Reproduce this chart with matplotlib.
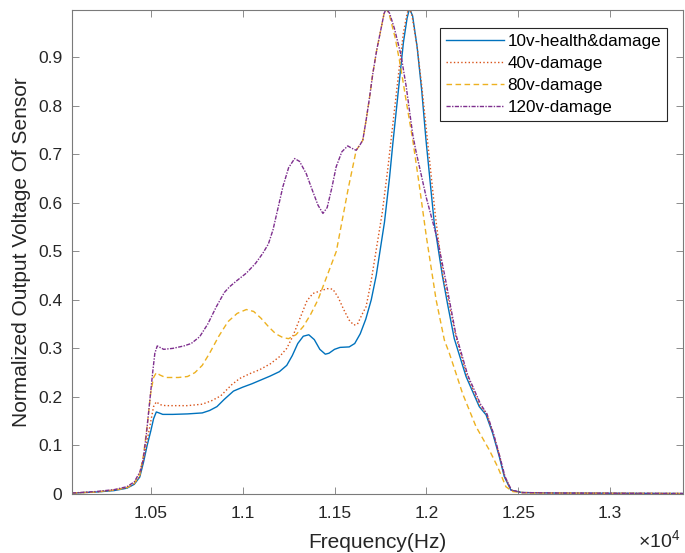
import numpy as np
import matplotlib
matplotlib.use('Agg')
import matplotlib.pyplot as plt
from matplotlib.ticker import MultipleLocator, FuncFormatter

plt.rcParams['font.family'] = ['Liberation Sans', 'DejaVu Sans']
plt.rcParams['mathtext.fontset'] = 'custom'
plt.rcParams['mathtext.rm'] = 'Liberation Sans'

#--------------------------------------------------#
# values (Hz, normalized voltage)
f_10v = [10071, 10200, 10300, 10370, 10410, 10440, 10460, 10480, 10500, 10515, 10530, 10545, 10565,
         10620, 10700, 10780, 10820, 10860, 10900, 10950, 11000, 11050, 11100, 11150, 11200, 11240,
         11270, 11300, 11330, 11360, 11390, 11420, 11450, 11470, 11500, 11530, 11580, 11610, 11640,
         11670, 11700, 11727, 11772, 11799, 11817, 11850, 11875, 11895, 11908, 11925, 11950, 11975,
         11998, 12043, 12087, 12116, 12152, 12216, 12288, 12325, 12361, 12397, 12424, 12460, 12520,
         12700, 13397]
v_10v = [0.002, 0.004, 0.007, 0.012, 0.020, 0.035, 0.065, 0.100, 0.130, 0.155, 0.169, 0.167, 0.164,
         0.164, 0.165, 0.167, 0.172, 0.180, 0.195, 0.212, 0.220, 0.227, 0.235, 0.243, 0.252, 0.265,
         0.285, 0.310, 0.325, 0.328, 0.318, 0.298, 0.288, 0.290, 0.298, 0.302, 0.303, 0.310, 0.330,
         0.360, 0.400, 0.450, 0.560, 0.650, 0.720, 0.840, 0.930, 0.980, 1.000, 0.985, 0.920, 0.830,
         0.729, 0.558, 0.450, 0.390, 0.320, 0.242, 0.180, 0.163, 0.125, 0.077, 0.036, 0.008, 0.003,
         0.002, 0.001]

f_40v = [10071, 10200, 10300, 10370, 10410, 10440, 10460, 10480, 10500, 10515, 10530, 10550, 10580,
         10700, 10780, 10830, 10880, 10940, 10984, 11040, 11092, 11150, 11201, 11240, 11273, 11310,
         11350, 11382, 11420, 11460, 11491, 11520, 11550, 11580, 11605, 11625, 11650, 11672, 11700,
         11730, 11760, 11790, 11820, 11850, 11875, 11895, 11905, 11920, 11950, 11975, 12000, 12050,
         12090, 12125, 12160, 12220, 12290, 12328, 12363, 12399, 12426, 12462, 12520, 12700, 13397]
v_40v = [0.002, 0.004, 0.008, 0.013, 0.021, 0.037, 0.070, 0.110, 0.150, 0.180, 0.190, 0.184, 0.182,
         0.182, 0.185, 0.192, 0.202, 0.225, 0.238, 0.248, 0.256, 0.268, 0.283, 0.300, 0.325, 0.360,
         0.398, 0.413, 0.418, 0.423, 0.422, 0.405, 0.380, 0.358, 0.348, 0.350, 0.370, 0.386, 0.440,
         0.510, 0.580, 0.670, 0.770, 0.870, 0.950, 0.990, 1.000, 0.990, 0.920, 0.840, 0.750, 0.570,
         0.450, 0.390, 0.325, 0.245, 0.183, 0.164, 0.125, 0.077, 0.036, 0.008, 0.003, 0.002, 0.001]

f_80v = [10071, 10200, 10300, 10370, 10410, 10440, 10460, 10480, 10500, 10515, 10530, 10550, 10580,
         10650, 10700, 10740, 10780, 10820, 10870, 10920, 10970, 11020, 11060, 11100, 11140, 11180,
         11220, 11250, 11290, 11330, 11370, 11410, 11440, 11480, 11510, 11545, 11575, 11600, 11618,
         11640, 11654, 11672, 11690, 11708, 11730, 11754, 11770, 11782, 11800, 11830, 11860, 11890,
         11926, 11960, 12000, 12053, 12098, 12125, 12160, 12197, 12270, 12342, 12388, 12433, 12470,
         12550, 13397]
v_80v = [0.002, 0.004, 0.008, 0.013, 0.022, 0.040, 0.080, 0.140, 0.210, 0.240, 0.250, 0.245, 0.240,
         0.240, 0.242, 0.250, 0.265, 0.290, 0.325, 0.355, 0.372, 0.380, 0.376, 0.362, 0.345, 0.330,
         0.322, 0.320, 0.328, 0.345, 0.370, 0.400, 0.430, 0.470, 0.500, 0.570, 0.630, 0.675, 0.708,
         0.720, 0.729, 0.770, 0.815, 0.865, 0.915, 0.960, 0.990, 1.000, 0.985, 0.940, 0.880, 0.810,
         0.729, 0.640, 0.530, 0.400, 0.317, 0.290, 0.250, 0.207, 0.139, 0.091, 0.056, 0.015, 0.005,
         0.002, 0.001]

f_120v = [10071, 10200, 10300, 10370, 10410, 10440, 10458, 10475, 10495, 10510, 10522, 10535, 10550,
          10570, 10620, 10680, 10720, 10766, 10810, 10857, 10900, 10929, 10970, 11020, 11070, 11110,
          11140, 11165, 11190, 11219, 11250, 11283, 11310, 11346, 11380, 11410, 11437, 11460, 11485,
          11509, 11540, 11572, 11595, 11618, 11640, 11654, 11672, 11690, 11708, 11730, 11754, 11770,
          11782, 11800, 11826, 11862, 11890, 11926, 11944, 12000, 12061, 12100, 12125, 12160, 12225,
          12295, 12330, 12365, 12400, 12428, 12463, 12520, 12700, 13397]
v_120v = [0.002, 0.005, 0.009, 0.015, 0.025, 0.045, 0.070, 0.120, 0.194, 0.250, 0.290, 0.305, 0.302,
          0.298, 0.300, 0.305, 0.310, 0.324, 0.350, 0.386, 0.415, 0.427, 0.440, 0.455, 0.475, 0.496,
          0.515, 0.544, 0.585, 0.633, 0.672, 0.691, 0.685, 0.660, 0.625, 0.595, 0.578, 0.590, 0.630,
          0.674, 0.705, 0.717, 0.712, 0.708, 0.720, 0.729, 0.770, 0.815, 0.865, 0.915, 0.960, 0.990,
          1.000, 0.990, 0.959, 0.904, 0.840, 0.740, 0.705, 0.610, 0.523, 0.450, 0.400, 0.330, 0.245,
          0.185, 0.165, 0.125, 0.077, 0.036, 0.008, 0.003, 0.002, 0.001]

labels = ['10v-health&damage', '40v-damage', '80v-damage', '120v-damage']
#--------------------------------------------------#

c_blue = '#0072BD'
c_orange = '#D95319'
c_yellow = '#EDB120'
c_purple = '#7E2F8E'
axcol = '#7a7a7a'
txtcol = '#262626'

fig = plt.figure(figsize=(6.85, 5.53), dpi=100, facecolor='white')
ax = fig.add_axes([72/685, 59/553, 611/685, 484/553])

ax.plot(f_10v, v_10v, color=c_blue, lw=1.0, ls='-', label=labels[0])
ax.plot(f_40v, v_40v, color=c_orange, lw=1.0, ls=':', label=labels[1])
ax.plot(f_80v, v_80v, color=c_yellow, lw=1.0, ls=(0, (4, 2.5)), label=labels[2])
ax.plot(f_120v, v_120v, color=c_purple, lw=1.0, ls=(0, (3, 1, 1, 1)), label=labels[3])

ax.set_xlim(10071, 13397)
ax.set_ylim(0, 0.997)
ax.xaxis.set_major_locator(MultipleLocator(500))
ax.xaxis.set_major_formatter(FuncFormatter(lambda v, p: '%g' % round(v / 1e4, 4)))
ax.yaxis.set_major_locator(MultipleLocator(0.1))
ax.yaxis.set_major_formatter(FuncFormatter(lambda v, p: '%g' % round(v, 2)))

ax.tick_params(direction='in', top=True, right=True, length=5, width=0.6,
               color=axcol, labelsize=12.5, labelcolor=txtcol)
ax.tick_params(axis='x', pad=9)
ax.tick_params(axis='y', pad=7)
for s in ax.spines.values():
    s.set_color(axcol)
    s.set_linewidth(0.8)

ax.set_xlabel('Frequency(Hz)', fontsize=15, color=txtcol, labelpad=8)
ax.set_ylabel('Normalized Output Voltage Of Sensor', fontsize=15, color=txtcol, labelpad=5)
ax.text(0.996, -0.110, r'$\times\mathregular{10^4}$', transform=ax.transAxes, ha='right',
        va='baseline', fontsize=14, color=txtcol)

leg = ax.legend(loc='upper right', bbox_to_anchor=(0.974, 0.963), borderaxespad=0,
                fancybox=False, framealpha=1, edgecolor='#262626', fontsize=12.3,
                handlelength=3.4, handletextpad=0.2, labelspacing=0.42, borderpad=0.35)
leg.get_frame().set_linewidth(0.8)

plt.savefig('out.png', dpi=100)
